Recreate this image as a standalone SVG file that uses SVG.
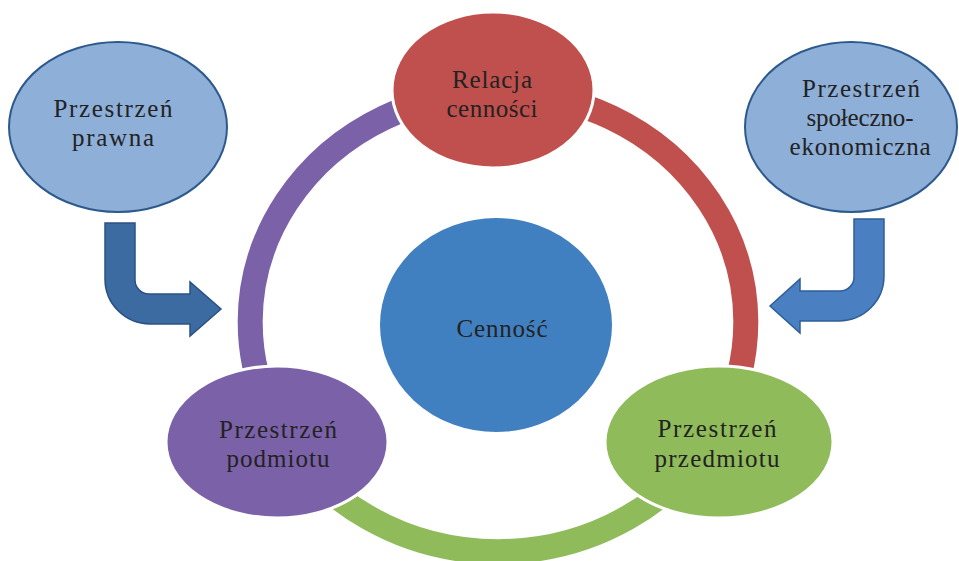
<svg xmlns="http://www.w3.org/2000/svg" width="959" height="561" viewBox="0 0 959 561">
<style>
.t{font-family:"Liberation Serif","Times New Roman",serif;font-size:25px;fill:#222;text-anchor:middle}
.ring{fill:none;stroke-width:25}
.outer{fill:#8eafd8;stroke:#2d5a8c;stroke-width:2}
.cyc{stroke:#fff;stroke-width:3}
</style>
<rect width="959" height="561" fill="#fff"/>
<g id="connectors">
<path class="ring" stroke="#7b61a8" d="M 498 92 A 248 230 0 0 0 277 426"/>
<path class="ring" stroke="#c0504d" d="M 498 92 A 248 230 0 0 1 719 426"/>
<path class="ring" stroke="#8fbb5b" d="M 277 426 A 248 230 0 0 0 719 426"/>
<path id="arrow-left" fill="#3c6ba1" stroke="#2b5184" stroke-width="1.5" d="M 105 223 L 135 223 L 135 280 A 14 14 0 0 0 149 294 L 190 294 L 190 282 L 221 309 L 190 336 L 190 324 L 150 324 A 45 45 0 0 1 105 279 Z"/>
<path id="arrow-right" fill="#4a7fc1" stroke="#2f5f96" stroke-width="1.5" d="M 854 219 L 884 219 L 884 276 A 45 45 0 0 1 839 321 L 800 321 L 800 333 L 770 306 L 800 279 L 800 291 L 840 291 A 14 14 0 0 0 854 277 Z"/>
</g>
<g id="node-prawna">
<ellipse class="outer" cx="118" cy="127" rx="109" ry="85"/>
<text class="t" x="113" y="117" textLength="119" lengthAdjust="spacing">Przestrzeń</text>
<text class="t" x="113" y="146" textLength="82" lengthAdjust="spacing">prawna</text>
</g>
<g id="node-spoleczno">
<ellipse class="outer" cx="851" cy="127" rx="106" ry="85"/>
<text class="t" x="861" y="97" textLength="118" lengthAdjust="spacing">Przestrzeń</text>
<text class="t" x="860" y="126" textLength="107" lengthAdjust="spacing">społeczno-</text>
<text class="t" x="860" y="155" textLength="141" lengthAdjust="spacing">ekonomiczna</text>
</g>
<g id="node-relacja">
<ellipse class="cyc" fill="#c0504d" cx="493" cy="90" rx="101" ry="78"/>
<text class="t" x="492" y="88" textLength="80" lengthAdjust="spacing">Relacja</text>
<text class="t" x="492" y="117" textLength="91" lengthAdjust="spacing">cenności</text>
</g>
<g id="node-cennosc">
<ellipse fill="#4180c0" stroke="#fff" stroke-width="2" cx="496" cy="325" rx="117" ry="108"/>
<text class="t" x="502" y="337" textLength="91" lengthAdjust="spacing">Cenność</text>
</g>
<g id="node-podmiotu">
<ellipse class="cyc" fill="#7b61a8" cx="277" cy="442" rx="111" ry="76"/>
<text class="t" x="278" y="438" textLength="118" lengthAdjust="spacing">Przestrzeń</text>
<text class="t" x="278" y="467" textLength="103" lengthAdjust="spacing">podmiotu</text>
</g>
<g id="node-przedmiotu">
<ellipse class="cyc" fill="#8fbb5b" cx="719" cy="442" rx="114" ry="76"/>
<text class="t" x="717" y="437" textLength="119" lengthAdjust="spacing">Przestrzeń</text>
<text class="t" x="717" y="467" textLength="125" lengthAdjust="spacing">przedmiotu</text>
</g>
</svg>
